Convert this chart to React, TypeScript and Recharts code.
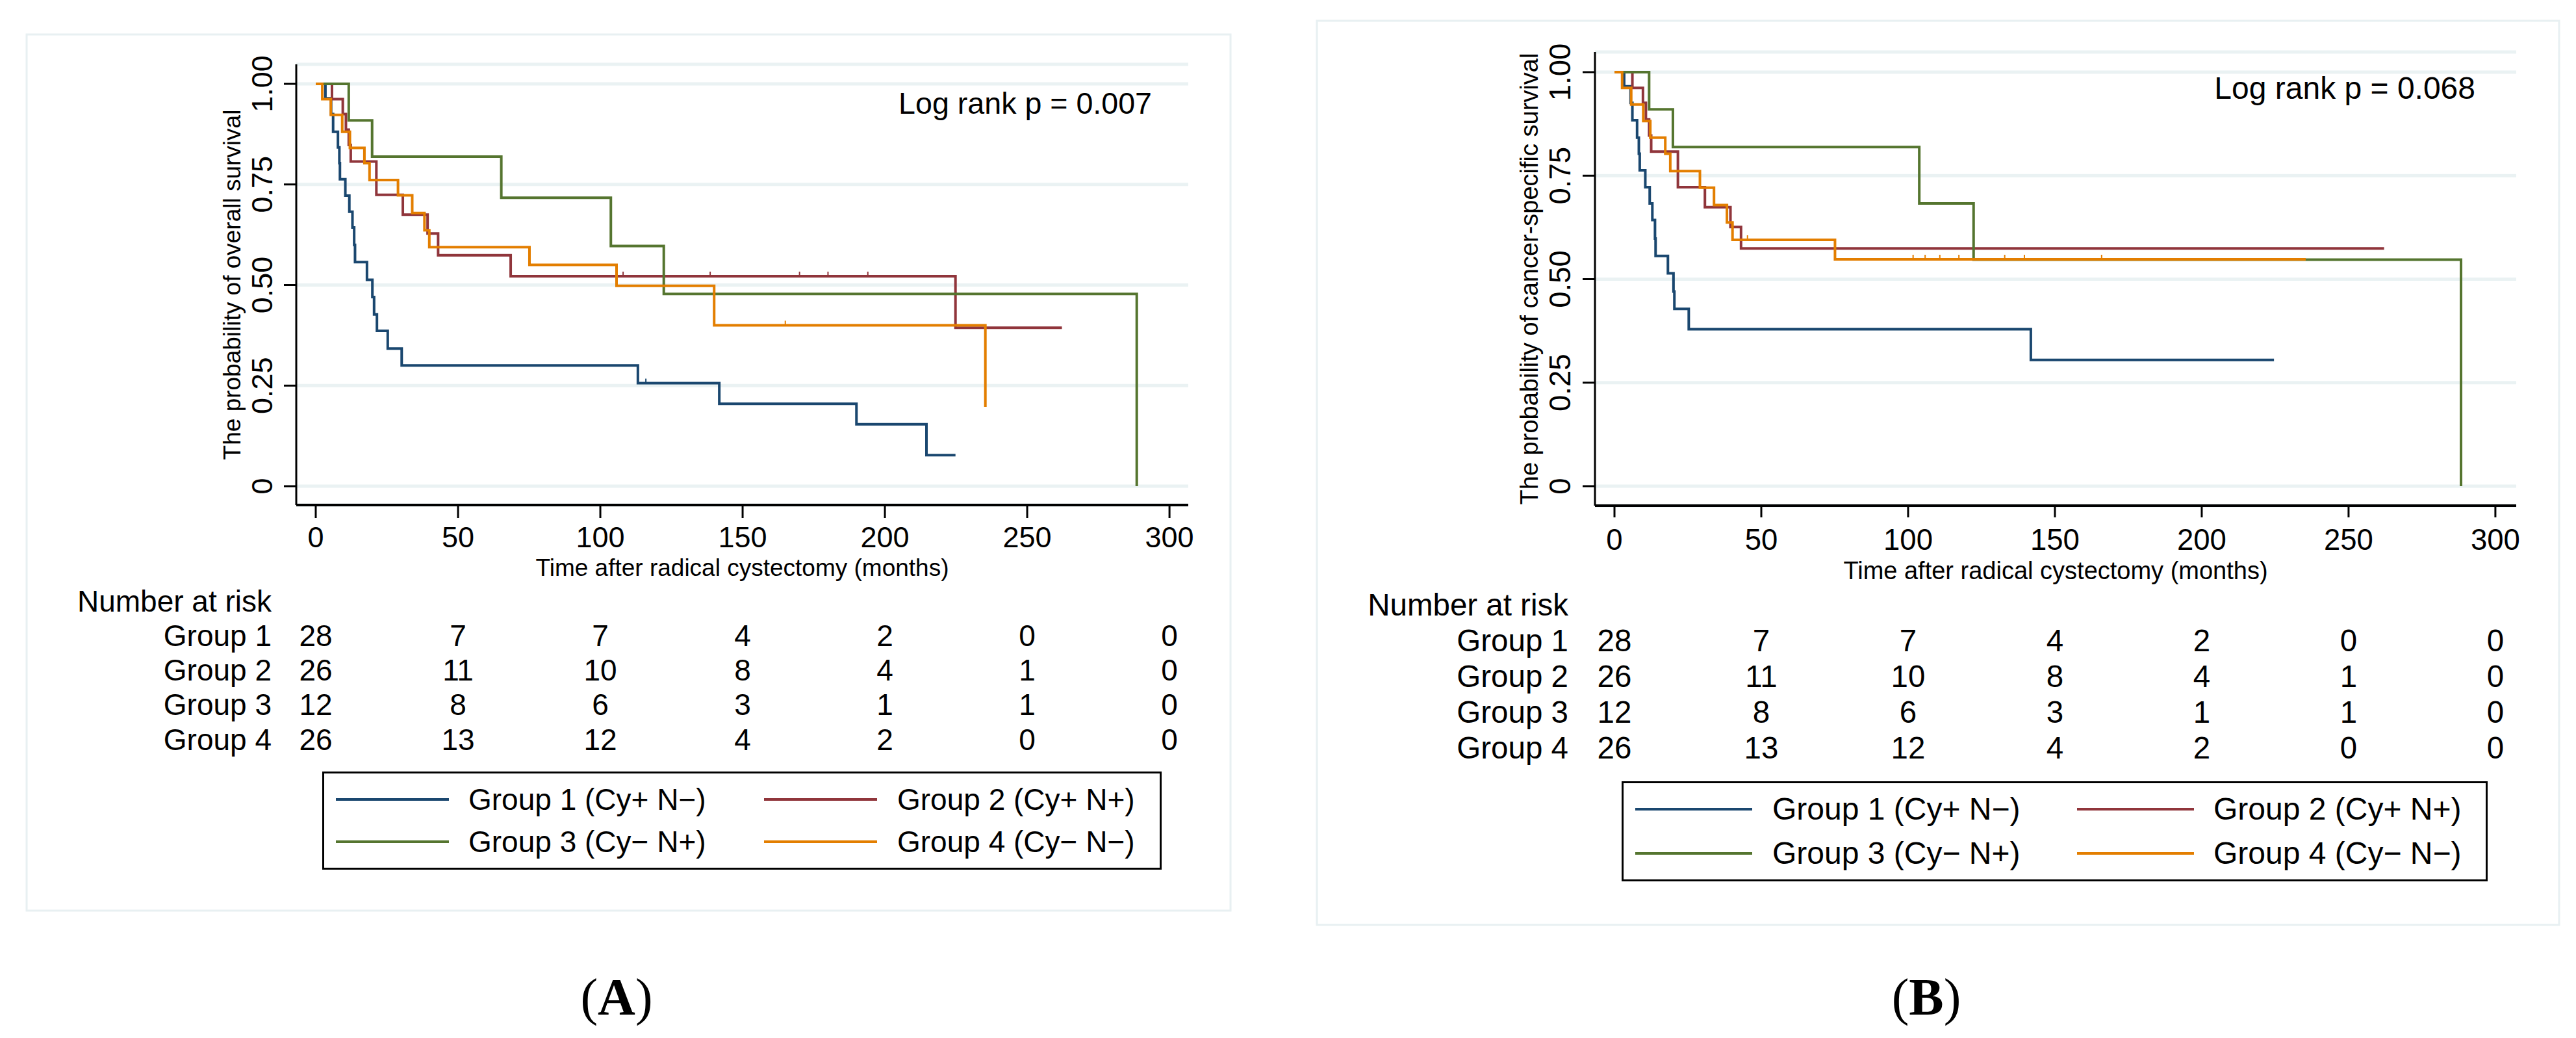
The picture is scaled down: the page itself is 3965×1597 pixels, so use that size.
import React from "react";
import {
  LineChart,
  Line,
  XAxis,
  YAxis,
  CartesianGrid,
  Legend,
  Label,
  ScatterChart,
  Scatter,
} from "recharts";

const FONT = '"Liberation Sans", Arial, Helvetica, sans-serif';

// axis ticks
const timeTicks = [0, 50, 100, 150, 200, 250, 300];
const survTicks = [0, 0.25, 0.5, 0.75, 1];
const survTickLabels = ["0", "0.25", "0.50", "0.75", "1.00"];

const groupNames = [
  "Group 1 (Cy+ N\u2212)",
  "Group 2 (Cy+ N+)",
  "Group 3 (Cy\u2212 N+)",
  "Group 4 (Cy\u2212 N\u2212)",
];
const groupColors = ["#1a476f", "#90353b", "#55752f", "#e37e00"];
const riskRows = ["Number at risk", "Group 1", "Group 2", "Group 3", "Group 4"];

// number at risk at 0, 50, ... 300 months (same table in both panels)
const riskG1 = [28, 7, 7, 4, 2, 0, 0];
const riskG2 = [26, 11, 10, 8, 4, 1, 0];
const riskG3 = [12, 8, 6, 3, 1, 1, 0];
const riskG4 = [26, 13, 12, 4, 2, 0, 0];

// (A) overall survival
const osG1Time = [0, 3.4, 5.4, 6.1, 7.8, 8.3, 8.5, 10.4, 11.8, 12.9, 13.5, 13.8, 18.0, 19.9, 20.5, 21.5, 25.3, 30.2, 113.2, 141.8, 190.0, 214.6, 224.8];
const osG1Surv = [1, 0.964, 0.925, 0.881, 0.842, 0.803, 0.763, 0.722, 0.682, 0.643, 0.6, 0.557, 0.513, 0.47, 0.427, 0.386, 0.342, 0.3, 0.256, 0.205, 0.154, 0.077, 0.077];
const osG1Cens = [116];

const osG2Time = [0, 5.7, 9.5, 10.6, 11.6, 12.3, 21.3, 30.6, 39.3, 43.0, 68.5, 224.8, 262.2];
const osG2Surv = [1, 0.962, 0.925, 0.886, 0.848, 0.807, 0.724, 0.675, 0.628, 0.574, 0.522, 0.394, 0.394];
const osG2Cens = [108, 138.6, 170, 180, 194];

const osG3Time = [0, 11.6, 19.8, 65.2, 103.7, 122.3, 288.5];
const osG3Surv = [1, 0.909, 0.819, 0.717, 0.597, 0.478, 0];

const osG4Time = [0, 2.3, 5.3, 9.3, 12.0, 17.1, 18.9, 28.9, 33.9, 38.2, 39.9, 75.1, 105.7, 140.0, 235.3];
const osG4Surv = [1, 0.962, 0.923, 0.881, 0.841, 0.803, 0.761, 0.723, 0.679, 0.636, 0.594, 0.55, 0.498, 0.4, 0.197];
const osG4Cens = [165];

// (B) cancer-specific survival
const cssG1Time = [0, 3.3, 5.5, 6.1, 7.7, 8.3, 8.6, 10.5, 12.0, 12.9, 13.8, 14.0, 18.2, 20.1, 20.4, 25.3, 141.8, 224.6];
const cssG1Surv = [1, 0.966, 0.926, 0.884, 0.842, 0.803, 0.763, 0.722, 0.683, 0.643, 0.598, 0.556, 0.514, 0.47, 0.428, 0.379, 0.305, 0.305];

const cssG2Time = [0, 6.1, 9.7, 10.7, 11.8, 12.5, 21.6, 30.8, 39.5, 43.1, 262.1];
const cssG2Surv = [1, 0.962, 0.926, 0.886, 0.847, 0.808, 0.722, 0.674, 0.626, 0.574, 0.574];

const cssG3Time = [0, 11.8, 19.9, 103.8, 122.3, 288.3];
const cssG3Surv = [1, 0.91, 0.819, 0.683, 0.547, 0];

const cssG4Time = [0, 2.6, 5.7, 9.8, 12.2, 17.3, 19.0, 29.1, 33.9, 38.3, 40.2, 75.1, 235.4];
const cssG4Surv = [1, 0.962, 0.922, 0.882, 0.842, 0.803, 0.761, 0.721, 0.679, 0.637, 0.595, 0.548, 0.548];
const cssG4Cens = [45.3, 101.7, 105.8, 110.8, 117.3, 132.9, 139.6, 165.9];

type Pt = { t: number; s: number; c: boolean };

// KM steps plus censor ticks (censor sits on the current step value)
function buildCurve(times: number[], surv: number[], cens: number[] = []): Pt[] {
  const pts: Pt[] = times.map((t, i) => ({ t, s: surv[i], c: false }));
  cens.forEach((ct) => {
    let idx = 0;
    times.forEach((t, i) => {
      if (t <= ct) idx = i;
    });
    pts.push({ t: ct, s: surv[idx], c: true });
  });
  return pts.sort((a, b) => a.t - b.t);
}

const riskTables = [riskG1, riskG2, riskG3, riskG4];
const riskPoints = riskTables.flatMap((arr, g) =>
  arr.map((n, i) => ({ t: timeTicks[i], row: g + 1, n }))
);

const osCurves = [
  buildCurve(osG1Time, osG1Surv, osG1Cens),
  buildCurve(osG2Time, osG2Surv, osG2Cens),
  buildCurve(osG3Time, osG3Surv),
  buildCurve(osG4Time, osG4Surv, osG4Cens),
];
const cssCurves = [
  buildCurve(cssG1Time, cssG1Surv),
  buildCurve(cssG2Time, cssG2Surv),
  buildCurve(cssG3Time, cssG3Surv),
  buildCurve(cssG4Time, cssG4Surv, cssG4Cens),
];

const panels = [
  {
    key: "A",
    curves: osCurves,
    yTitle: "The probability of overall survival",
    logRank: "Log rank p = 0.007",
    box: { x: 41, y: 53, w: 1853, h: 1348 },
    chart: { left: 60, top: 80, width: 1829, height: 820, mTop: 19, mRight: 60, yW: 396, xH: 123 },
    xDomain: [-6.85, 306.6],
    yDomain: [-0.0468, 1.0485],
    yTickGap: 34,
    xTickSize: 20,
    xTickGap: 45,
    yTitleDx: 99,
    xTitleDy: 109,
    titleFs: 37,
    tickFs: 45,
    risk: { top: 880, height: 320, mTop: 44.5, plotH: 212.7, gap: 38, fs: 46 },
    legend: { x: 496, y: 1187, w: 1292, h: 151, lineX: [18, 677], lineLen: 174, textX: [222, 882], rowY: [40, 105], fs: 46 },
    logPos: { x: 1773, y: 175, fs: 46.6 },
    label: { x: 949, y: 1561 },
  },
  {
    key: "B",
    curves: cssCurves,
    yTitle: "The probability of cancer-specific survival",
    logRank: "Log rank p = 0.068",
    box: { x: 2027, y: 32, w: 1912, h: 1391 },
    chart: { left: 2055, top: 50, width: 1858, height: 850, mTop: 30, mRight: 40, yW: 400, xH: 122 },
    xDomain: [-6.64, 307.1],
    yDomain: [-0.0471, 1.0487],
    yTickGap: 35,
    xTickSize: 18,
    xTickGap: 50,
    yTitleDx: 101,
    xTitleDy: 113,
    titleFs: 38,
    tickFs: 45.5,
    risk: { top: 880, height: 320, mTop: 50, plotH: 219.7, gap: 41, fs: 47.5 },
    legend: { x: 2496, y: 1202, w: 1333, h: 154, lineX: [18, 698], lineLen: 180, textX: [229, 908], rowY: [40, 108], fs: 48 },
    logPos: { x: 3810, y: 152, fs: 48 },
    label: { x: 2965, y: 1561 },
  },
];

type Panel = (typeof panels)[number];

function censorDot(color: string) {
  return (props: any) => {
    const { cx, cy, payload, index } = props;
    if (!payload || !payload.c || cx == null) return <g key={`d-${index}`} />;
    return <line key={`d-${index}`} x1={cx} x2={cx} y1={cy} y2={cy - 7} stroke={color} strokeWidth={2} />;
  };
}

function makeLegend(p: Panel) {
  const lg = p.legend;
  return (props: any) => {
    const payload = props.payload || [];
    return (
      <div
        style={{
          width: lg.w,
          height: lg.h,
          boxSizing: "border-box",
          border: "3px solid #000",
          position: "relative",
          background: "#fff",
          fontFamily: FONT,
          color: "#000",
        }}
      >
        {payload.map((e: any, i: number) => {
          const col = i % 2;
          const row = Math.floor(i / 2);
          return (
            <React.Fragment key={i}>
              <div
                style={{
                  position: "absolute",
                  left: lg.lineX[col],
                  top: lg.rowY[row] - 2,
                  width: lg.lineLen,
                  height: 4,
                  background: e.color,
                }}
              />
              <div
                style={{
                  position: "absolute",
                  left: lg.textX[col],
                  top: lg.rowY[row],
                  transform: "translateY(-50%)",
                  fontSize: lg.fs,
                  lineHeight: 1,
                  whiteSpace: "nowrap",
                }}
              >
                {e.value}
              </div>
            </React.Fragment>
          );
        })}
      </div>
    );
  };
}

function SurvivalPanel({ p }: { p: Panel }) {
  const c = p.chart;
  const yTick = (props: any) => {
    const { x, y, payload } = props;
    const label = survTickLabels[survTicks.indexOf(payload.value)];
    return (
      <text x={x} y={y} transform={`rotate(-90 ${x} ${y})`} textAnchor="middle" dy="0.355em" fontSize={p.tickFs} fill="#000">
        {label}
      </text>
    );
  };
  const xTick = (props: any) => {
    const { x, y, payload } = props;
    return (
      <text x={x} y={y} textAnchor="middle" fontSize={p.tickFs} fill="#000">
        {payload.value}
      </text>
    );
  };
  const yTitle = (props: any) => {
    const vb = props.viewBox;
    const x = vb.x + vb.width - p.yTitleDx;
    const y = vb.y + vb.height / 2;
    return (
      <text x={x} y={y} transform={`rotate(-90 ${x} ${y})`} textAnchor="middle" dy="0.355em" fontSize={p.titleFs} fill="#000">
        {p.yTitle}
      </text>
    );
  };
  const xTitle = (props: any) => {
    const vb = props.viewBox;
    return (
      <text x={vb.x + vb.width / 2} y={vb.y + p.xTitleDy} textAnchor="middle" fontSize={p.titleFs} fill="#000">
        Time after radical cystectomy (months)
      </text>
    );
  };
  const riskTick = (props: any) => {
    const { x, y, payload } = props;
    return (
      <text x={x} y={y} textAnchor="end" dy="0.355em" fontSize={p.risk.fs} fill="#000">
        {riskRows[payload.value]}
      </text>
    );
  };
  const riskShape = (props: any) => (
    <text x={props.cx} y={props.cy} textAnchor="middle" dy="0.355em" fontSize={p.risk.fs} fill="#000">
      {props.payload.n}
    </text>
  );

  return (
    <>
      <div style={{ position: "absolute", left: c.left, top: c.top }}>
        <LineChart width={c.width} height={c.height} margin={{ top: c.mTop, right: c.mRight, bottom: 0, left: 0 }}>
          <CartesianGrid vertical={false} stroke="#eaf2f3" strokeWidth={5} />
          <XAxis
            type="number"
            dataKey="t"
            domain={p.xDomain}
            allowDataOverflow
            ticks={timeTicks}
            interval={0}
            height={c.xH}
            tickSize={p.xTickSize}
            tickMargin={p.xTickGap}
            tick={xTick}
            axisLine={{ stroke: "#000", strokeWidth: 4 }}
            tickLine={{ stroke: "#000", strokeWidth: 3 }}
            label={<Label content={xTitle} />}
          />
          <YAxis
            type="number"
            domain={p.yDomain}
            allowDataOverflow
            ticks={survTicks}
            interval={0}
            width={c.yW}
            tickSize={19}
            tickMargin={p.yTickGap}
            tick={yTick}
            axisLine={{ stroke: "#000", strokeWidth: 3 }}
            tickLine={{ stroke: "#000", strokeWidth: 3 }}
            label={<Label content={yTitle} />}
          />
          {p.curves.map((d, i) => (
            <Line
              key={i}
              data={d}
              dataKey="s"
              name={groupNames[i]}
              type="stepAfter"
              stroke={groupColors[i]}
              strokeWidth={4}
              dot={censorDot(groupColors[i])}
              activeDot={false}
              isAnimationActive={false}
            />
          ))}
          <Legend
            layout="horizontal"
            verticalAlign="middle"
            align="center"
            content={makeLegend(p)}
            wrapperStyle={{ left: p.legend.x - c.left, top: p.legend.y - c.top, width: p.legend.w, height: p.legend.h }}
          />
        </LineChart>
      </div>
      <div style={{ position: "absolute", left: c.left, top: p.risk.top }}>
        <ScatterChart
          width={c.width}
          height={p.risk.height}
          margin={{ top: p.risk.mTop, right: c.mRight, bottom: p.risk.height - p.risk.mTop - p.risk.plotH, left: 0 }}
        >
          <XAxis type="number" dataKey="t" domain={p.xDomain} allowDataOverflow hide />
          <YAxis
            type="number"
            dataKey="row"
            domain={[0, 4]}
            reversed
            ticks={[0, 1, 2, 3, 4]}
            interval={0}
            width={c.yW}
            axisLine={false}
            tickLine={false}
            tickSize={0}
            tickMargin={p.risk.gap}
            tick={riskTick}
          />
          <Scatter data={riskPoints} shape={riskShape} isAnimationActive={false} />
        </ScatterChart>
      </div>
    </>
  );
}

export default function App() {
  return (
    <div
      style={{
        position: "absolute",
        left: 0,
        top: 0,
        width: 3965,
        height: 1597,
        background: "#fff",
        fontFamily: FONT,
        overflow: "hidden",
      }}
    >
      <svg width={3965} height={1597} style={{ position: "absolute", left: 0, top: 0 }}>
        {panels.map((p) => (
          <g key={p.key}>
            <rect x={p.box.x} y={p.box.y} width={p.box.w} height={p.box.h} fill="#fff" stroke="#e8f0f2" strokeWidth={3} />
            <text x={p.logPos.x} y={p.logPos.y} textAnchor="end" fontSize={p.logPos.fs} fill="#000" fontFamily={FONT}>
              {p.logRank}
            </text>
            <text x={p.label.x} y={p.label.y} textAnchor="middle" fontSize={80} fill="#000" fontFamily='"Liberation Serif", "Times New Roman", serif'>
              (<tspan fontWeight="bold">{p.key}</tspan>)
            </text>
          </g>
        ))}
      </svg>
      {panels.map((p) => (
        <SurvivalPanel key={p.key} p={p} />
      ))}
    </div>
  );
}
